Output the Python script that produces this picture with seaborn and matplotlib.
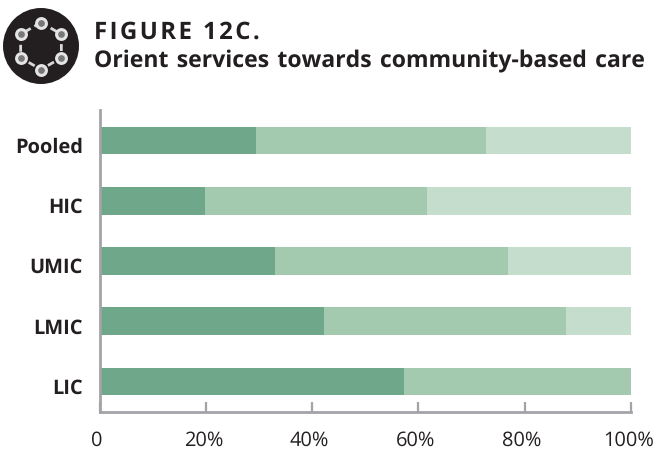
import numpy as np
import pandas as pd
import matplotlib
matplotlib.use("Agg")
import matplotlib.pyplot as plt
from matplotlib.patches import Circle
from matplotlib.transforms import Affine2D
import seaborn as sns

categories = ["Pooled", "HIC", "UMIC", "LMIC", "LIC"]
first_share = [29.5, 19.8, 33.0, 42.2, 57.2]
second_share = [43.3, 41.9, 43.8, 45.6, 42.8]
third_share = [27.2, 38.3, 23.2, 12.2, 0.0]
tick_values = [0, 20, 40, 60, 80, 100]
tick_labels = ["0", "20%", "40%", "60%", "80%", "100%"]
shades = ["#6ea78a", "#a3c9af", "#c5ddcd"]

sns.set_theme(style="white")
plt.rcParams["font.family"] = ["Open Sans", "DejaVu Sans"]
plt.rcParams["text.hinting"] = "no_hinting"
plt.rcParams["text.hinting_factor"] = 1

W, H = 656, 450
fig = plt.figure(figsize=(W / 100, H / 100), dpi=100)
ax = fig.add_axes([99.5 / W, 1 - 411.5 / H, 531.5 / W, 301 / H])

shares = pd.DataFrame({"first": first_share, "second": second_share, "third": third_share},
                      index=categories)
offsets = shares.cumsum(axis=1).shift(1, axis=1).fillna(0)
for col, colour in zip(shares.columns, shades):
    sns.barplot(x=shares[col].values, y=categories, left=offsets[col].values, order=categories,
                color=colour, saturation=1, width=0.46, linewidth=0, ax=ax, orient="y")

ax.set_xlim(0, 100)
ax.set_ylim(4.5, -0.5)
ax.set_xticks(tick_values, tick_labels)
ax.tick_params(axis="x", direction="in", length=7, width=1.6, color="#a3a3a8", pad=14,
               labelsize=14.5, labelcolor="#231f20", bottom=True)
ax.tick_params(axis="y", length=0, pad=12, labelsize=14.2, labelcolor="#231f20")
for label in ax.get_xticklabels():
    label.set_transform(label.get_transform() + Affine2D().translate(-2.5, 0))
for label in ax.get_yticklabels():
    label.set_fontweight("bold")
    label.set_transform(label.get_transform() + Affine2D().translate(0, -4.5))
for side in ("top", "right"):
    ax.spines[side].set_visible(False)
for side in ("left", "bottom"):
    ax.spines[side].set_color("#a3a3a8")
    ax.spines[side].set_linewidth(2)

# Heading; hair spaces open up the tracking of the first line and the word gaps of the second
fig.text(94 / W, 1 - 38.5 / H, "\u200a".join("FIGURE 12C."), fontsize=17, fontweight="bold",
         color="#231f20")
fig.text(94 / W, 1 - 67 / H,
         "Orient services towards community-based care".replace(" ", " \u200a"),
         fontsize=16.9, fontweight="bold", color="#231f20")

# Round badge with a ring of linked nodes
badge = fig.add_axes([0, 0, 1, 1], facecolor="none")
badge.set_xlim(0, W)
badge.set_ylim(H, 0)
badge.axis("off")
badge.add_patch(Circle((41, 46), 38, color="#231f20", lw=0))
angles = np.deg2rad([-90, -30, 30, 90, 150, 210])
nx, ny = 41 + 23.5 * np.cos(angles), 46 + 23.5 * np.sin(angles)
badge.plot(np.r_[nx, nx[0]], np.r_[ny, ny[0]], color="#d8d8d8", lw=2, ls=(0, (2.5, 1.5)))
badge.scatter(nx, ny, s=50, facecolor="#77777a", edgecolor="#e4e4e4", linewidth=2.2, zorder=3)

fig.savefig("out.png", dpi=100)
